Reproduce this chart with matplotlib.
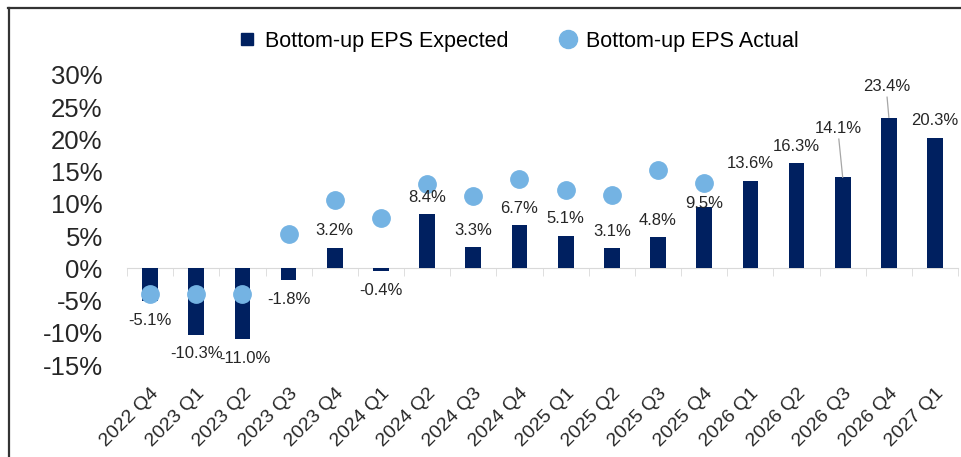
import matplotlib.pyplot as plt
from matplotlib.lines import Line2D
import numpy as np

# Quarterly bottom-up EPS growth (y/y, %)
quarters = ['2022 Q4', '2023 Q1', '2023 Q2', '2023 Q3', '2023 Q4', '2024 Q1',
            '2024 Q2', '2024 Q3', '2024 Q4', '2025 Q1', '2025 Q2', '2025 Q3',
            '2025 Q4', '2026 Q1', '2026 Q2', '2026 Q3', '2026 Q4', '2027 Q1']
eps_expected = [-5.1, -10.3, -11.0, -1.8, 3.2, -0.4, 8.4, 3.3, 6.7, 5.1, 3.1, 4.8,
                9.5, 13.6, 16.3, 14.1, 23.4, 20.3]
eps_actual = [-4.0, -4.0, -4.0, 5.4, 10.6, 7.8, 13.1, 11.3, 13.8, 12.1, 11.4, 15.3,
              13.2]
y_ticks = [-15, -10, -5, 0, 5, 10, 15, 20, 25, 30]

navy = '#002060'
light_blue = '#74B3E3'
text_color = '#262626'

plt.rcParams['font.family'] = ['Liberation Sans', 'DejaVu Sans']

fig = plt.figure(figsize=(9.62, 4.57), dpi=100)
ax = fig.add_axes([0.132, 0.201, 0.864, 0.635])

x = np.arange(len(quarters))
ax.bar(x, eps_expected, width=0.34, color=navy, zorder=2)
ax.plot(x[:len(eps_actual)], eps_actual, linestyle='none', marker='o',
        markersize=12.5, color=light_blue, zorder=3)

ax.set_xlim(-0.5, len(quarters) - 0.5)
ax.set_ylim(-15, 30)
ax.set_yticks(y_ticks)
ax.set_yticklabels([f'{t}%' for t in y_ticks], fontsize=18.5, color=text_color)
ax.tick_params(axis='y', length=0, pad=17.5)

for side in ['top', 'right', 'left']:
    ax.spines[side].set_visible(False)
ax.spines['bottom'].set_position(('data', 0))
ax.spines['bottom'].set_color('#D9D9D9')
ax.spines['bottom'].set_zorder(1)
ax.set_xticks([])
ax.set_xticks(np.arange(len(quarters) + 1) - 0.5, minor=True)
ax.tick_params(axis='x', which='minor', length=6, color='#D9D9D9', direction='out')

sec = ax.secondary_xaxis('bottom')
sec.set_xticks(x)
sec.set_xticklabels(quarters, rotation=45, ha='right', rotation_mode='anchor',
                    fontsize=14, color=text_color)
sec.tick_params(length=0, pad=14)
sec.spines['bottom'].set_visible(False)

# label offsets (points) for labels moved off their default place
special = {'2023 Q2': (1.8, 0), '2025 Q4': (0, -9.5),
           '2026 Q3': (-3, 23), '2026 Q4': (-1.5, 10)}
for q, xi, v in zip(quarters, x, eps_expected):
    dy = 12.2 if v >= 0 else -13.7
    dx, extra = special.get(q, (0, 0))
    if q in ('2026 Q3', '2026 Q4'):
        ax.annotate(f'{v:.1f}%', (xi, v), xytext=(dx, dy + extra),
                    textcoords='offset points', ha='center', va='center',
                    fontsize=12, color=text_color,
                    arrowprops=dict(arrowstyle='-', color='#A6A6A6', lw=0.9,
                                    relpos=(0.5, 0), shrinkA=0, shrinkB=0))
    else:
        ax.annotate(f'{v:.1f}%', (xi, v), xytext=(dx, dy + extra),
                    textcoords='offset points', ha='center', va='center',
                    fontsize=12, color=text_color, zorder=4)

handles = [Line2D([], [], linestyle='none', marker='s', markersize=8.5, color=navy),
           Line2D([], [], linestyle='none', marker='o', markersize=13, color=light_blue)]
fig.legend(handles, ['Bottom-up EPS Expected', 'Bottom-up EPS Actual'],
           loc='center', bbox_to_anchor=(0.538, 0.91), ncol=2, frameon=False,
           handlelength=1.0, handletextpad=0.3, columnspacing=2.3,
           prop={'size': 15.5})

# frame around the picture (top and left edges)
fig.add_artist(Line2D([0.008, 1.0], [0.982, 0.982], transform=fig.transFigure,
                      color='#333333', lw=1.6))
fig.add_artist(Line2D([0.009, 0.009], [0.0, 0.982], transform=fig.transFigure,
                      color='#333333', lw=1.6))

fig.savefig('out.png', dpi=100)
